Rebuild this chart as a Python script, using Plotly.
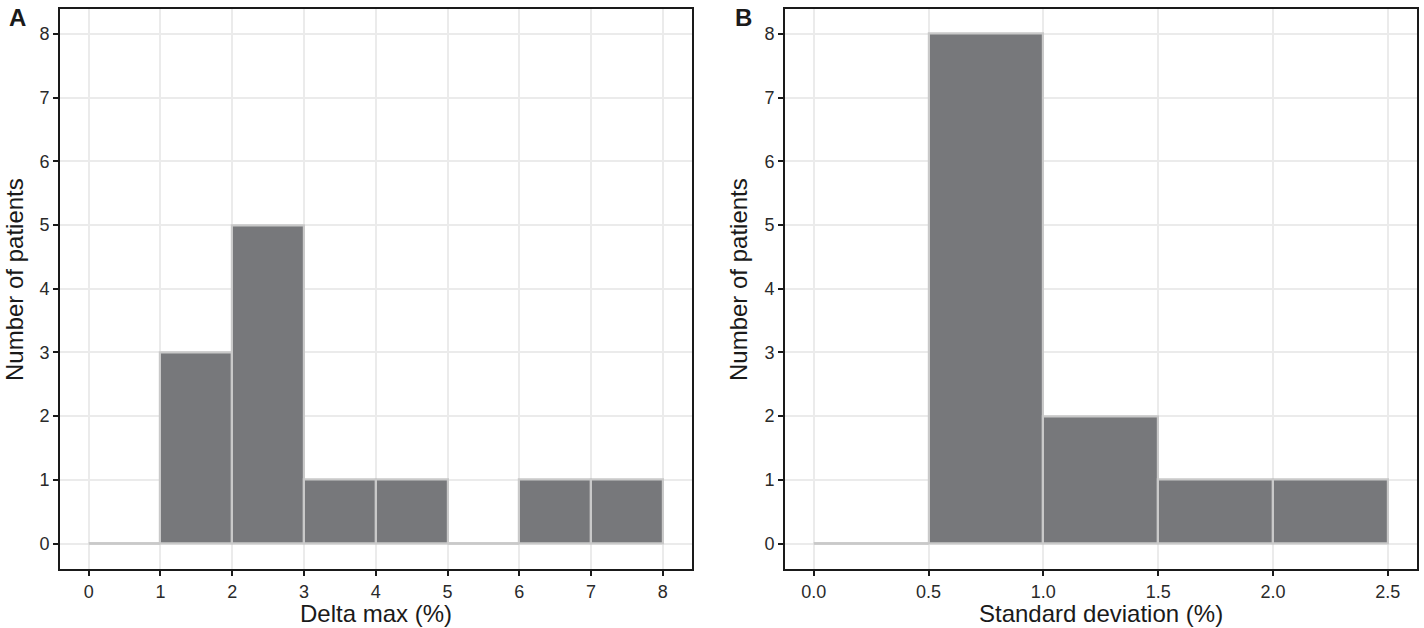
import plotly.graph_objects as go

# Panel A data: Delta max (%) histogram, bin width 1
a_bin_edges = [0, 1, 2, 3, 4, 5, 6, 7, 8]
a_counts = [0, 3, 5, 1, 1, 0, 1, 1]
a_ticks = [0, 1, 2, 3, 4, 5, 6, 7, 8]

# Panel B data: Standard deviation (%) histogram, bin width 0.5
b_bin_edges = [0.0, 0.5, 1.0, 1.5, 2.0, 2.5]
b_counts = [0, 8, 2, 1, 1]
b_ticks = [0.0, 0.5, 1.0, 1.5, 2.0, 2.5]
b_tick_text = ["0.0", "0.5", "1.0", "1.5", "2.0", "2.5"]

y_ticks = [0, 1, 2, 3, 4, 5, 6, 7, 8]

FILL = "#77787B"
EDGE = "#C9C9C9"
GRID = "#EBEBEB"
FONT = "Liberation Sans, Arial, sans-serif"
W, H = 1424, 628


def px(x):
    return x / W


def py(y):
    return 1 - y / H


fig = go.Figure()


def add_hist(edges, counts, xa, ya):
    centers = [(edges[i] + edges[i + 1]) / 2 for i in range(len(counts))]
    widths = [edges[i + 1] - edges[i] for i in range(len(counts))]
    fig.add_trace(go.Bar(
        x=centers, y=counts, width=widths,
        marker=dict(color=FILL, line=dict(color=EDGE, width=2.2)),
        xaxis=xa, yaxis=ya, showlegend=False, hoverinfo="x+y",
    ))
    # zero-count bins are drawn as a flat outline at y=0
    for i, c in enumerate(counts):
        if c == 0:
            fig.add_trace(go.Scatter(
                x=[edges[i], edges[i + 1]], y=[0, 0], mode="lines",
                line=dict(color=EDGE, width=2.5),
                xaxis=xa, yaxis=ya, showlegend=False, hoverinfo="skip",
            ))


add_hist(a_bin_edges, a_counts, "x", "y")
add_hist(b_bin_edges, b_counts, "x2", "y2")

ydom = [py(569), py(8.5)]
xdomA = [px(60), px(691.5)]
xdomB = [px(785), px(1416.5)]

axis_common = dict(
    showline=True, mirror=True, linecolor="#1a1a1a", linewidth=2,
    ticks="outside", ticklen=5, tickwidth=2, tickcolor="#1a1a1a",
    showgrid=True, gridcolor=GRID, gridwidth=2, zeroline=False,
    tickfont=dict(family=FONT, size=18, color="#2a2a2a"),
)

span_a = a_bin_edges[-1] - a_bin_edges[0]
span_b = b_bin_edges[-1] - b_bin_edges[0]
ymax = max(y_ticks)

fig.update_layout(
    width=W, height=H,
    margin=dict(l=0, r=0, t=0, b=0),
    paper_bgcolor="white", plot_bgcolor="white",
    bargap=0,
    xaxis=dict(domain=xdomA, anchor="y",
               range=[a_bin_edges[0] - 0.05 * span_a, a_bin_edges[-1] + 0.05 * span_a],
               tickvals=a_ticks, **axis_common),
    yaxis=dict(domain=ydom, anchor="x",
               range=[-0.05 * ymax, ymax * 1.05],
               tickvals=y_ticks, **axis_common),
    xaxis2=dict(domain=xdomB, anchor="y2",
                range=[b_bin_edges[0] - 0.05 * span_b, b_bin_edges[-1] + 0.05 * span_b],
                tickvals=b_ticks, ticktext=b_tick_text, **axis_common),
    yaxis2=dict(domain=ydom, anchor="x2",
                range=[-0.05 * ymax, ymax * 1.05],
                tickvals=y_ticks, **axis_common),
)

title_font = dict(family=FONT, size=24, color="#1a1a1a")
letter_font = dict(family=FONT, size=24, color="#1a1a1a")
ann = [
    dict(text="<b>A</b>", x=px(17.5), y=py(17), font=letter_font),
    dict(text="<b>B</b>", x=px(743.5), y=py(17), font=letter_font),
    dict(text="Number of patients", x=px(14), y=py(280), textangle=-90, font=title_font),
    dict(text="Number of patients", x=px(738), y=py(280), textangle=-90, font=title_font),
    dict(text="Delta max (%)", x=(xdomA[0] + xdomA[1]) / 2, y=py(613), font=title_font),
    dict(text="Standard deviation (%)", x=(xdomB[0] + xdomB[1]) / 2, y=py(613), font=title_font),
]
for a in ann:
    fig.add_annotation(xref="paper", yref="paper", xanchor="center", yanchor="middle",
                       showarrow=False, **a)

# remove the browser's default 8px page margin so the figure fills the window
fig.write_html("out.html", config={"displayModeBar": False},
               post_script="document.body.style.margin='0';")
